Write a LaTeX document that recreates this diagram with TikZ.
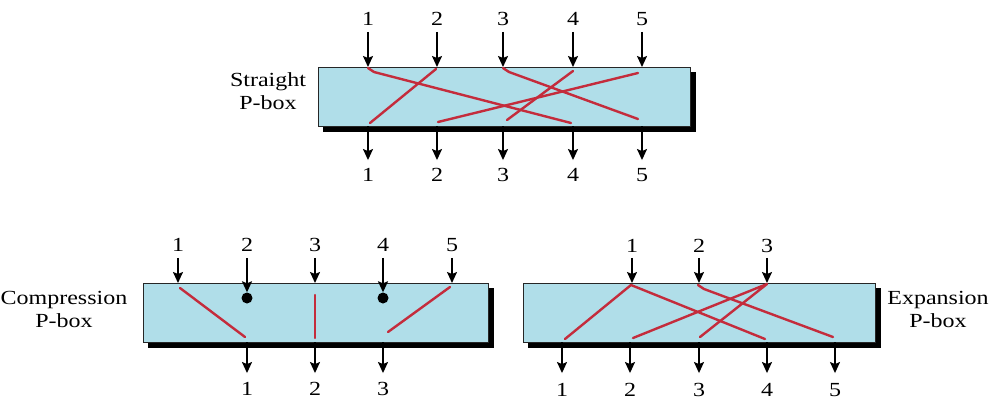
\documentclass[tikz,border=0pt]{standalone}
\usepackage{fontspec}
\setmainfont{Liberation Serif}[FakeStretch=1.2]
\usetikzlibrary{arrows.meta,backgrounds}
\definecolor{boxblue}{RGB}{176,222,233}
\definecolor{wirered}{RGB}{196,44,60}
\tikzset{
  pbox/.style={draw=black!85, line width=1pt, fill=boxblue, inner sep=0pt},
  wire/.style={draw=wirered, line width=2.4pt, line cap=round, line join=round},
  arr/.style={draw=black, line width=1.6pt, -{Stealth[length=11pt,width=10pt,inset=2pt]}},
  num/.style={font=\fontsize{20}{24}\selectfont, inner sep=0pt, text height=13.5pt, text depth=0pt},
  lbl/.style={font=\fontsize{20}{23}\selectfont, align=center, inner sep=0pt},
  pin/.style={fill=black, circle, inner sep=0pt, minimum size=11pt},
}
% solid black shadow under a box node, offset right and down
\newcommand\boxshadow[1]{%
  \begin{scope}[on background layer]
    \fill[black] ([xshift=5pt,yshift=-5pt]#1.north west) rectangle ([xshift=5pt,yshift=-5pt]#1.south east);
  \end{scope}}
\begin{document}
\begin{tikzpicture}[x=1pt,y=-1pt]
\useasboundingbox (0,0) rectangle (989,400);

% ---------- straight P-box ----------
\node[pbox, minimum width=372pt, minimum height=59pt] (sbox) at (504,96.5) {};
\boxshadow{sbox}
\node[lbl] (slab) at (268,91) {Straight\\P-box};
\foreach \i/\px in {1/368,2/437,3/503,4/573,5/642} {
  \node[num] (sn\i) at (\px,19) {\i};
  \coordinate (si\i) at (\px,67);
  \draw[arr, shorten <=6pt] (sn\i) -- (si\i);
  \coordinate (so\i) at (\px,126);
  \node[num] (sm\i) at (\px,175) {\i};
  \draw[arr, shorten >=8pt] (so\i) -- (sm\i);
}
\draw[wire] (368,68) -- (374,72) -- (571,123);
\draw[wire] (436,69) -- (370,123);
\draw[wire] (503,68) -- (509,72) -- (638,119);
\draw[wire] (573,71) -- (507,120);
\draw[wire] (638,73) -- (438,122);

% ---------- compression P-box ----------
\node[pbox, minimum width=345pt, minimum height=59pt] (cbox) at (315.5,312.5) {};
\boxshadow{cbox}
\node[lbl] (clab) at (64,309) {Compression\\P-box};
\node[pin] (cd2) at (247,298) {};
\node[pin] (cd4) at (383,298) {};
\foreach \i/\px in {1/178,3/315,5/452} {
  \node[num] (cn\i) at (\px,245) {\i};
  \coordinate (ci\i) at (\px,283);
  \draw[arr, shorten <=6pt] (cn\i) -- (ci\i);
}
\foreach \i/\px in {2/247,4/383} {
  \node[num] (cn\i) at (\px,245) {\i};
  \draw[arr, shorten <=6pt] (cn\i) -- (cd\i.north);
}
\foreach \i/\px in {1/247,2/315,3/383} {
  \coordinate (co\i) at (\px,342);
  \node[num] (cm\i) at (\px,389) {\i};
  \draw[arr, shorten >=9pt] (co\i) -- (cm\i);
}
\draw[wire] (180,288) -- (245,337);
\draw[wire] (315,295) -- (315,338);
\draw[wire] (450,287) -- (388,332);

% ---------- expansion P-box ----------
\node[pbox, minimum width=352pt, minimum height=59pt] (ebox) at (699,312.5) {};
\boxshadow{ebox}
\node[lbl] (elab) at (938,309) {Expansion\\P-box};
\foreach \i/\px in {1/632,2/699,3/767} {
  \node[num] (en\i) at (\px,246) {\i};
  \coordinate (ei\i) at (\px,283);
  \draw[arr, shorten <=5pt] (en\i) -- (ei\i);
}
\foreach \i/\px in {1/562,2/630,3/699,4/767,5/835} {
  \coordinate (eo\i) at (\px,342);
  \node[num] (em\i) at (\px,390) {\i};
  \draw[arr, shorten >=10pt] (eo\i) -- (em\i);
}
\draw[wire] (565,339) -- (631,285) -- (765,339);
\draw[wire] (698,285) -- (704,289) -- (833,337);
\draw[wire] (633,338) -- (767,284) -- (700,337);
\end{tikzpicture}
\end{document}
